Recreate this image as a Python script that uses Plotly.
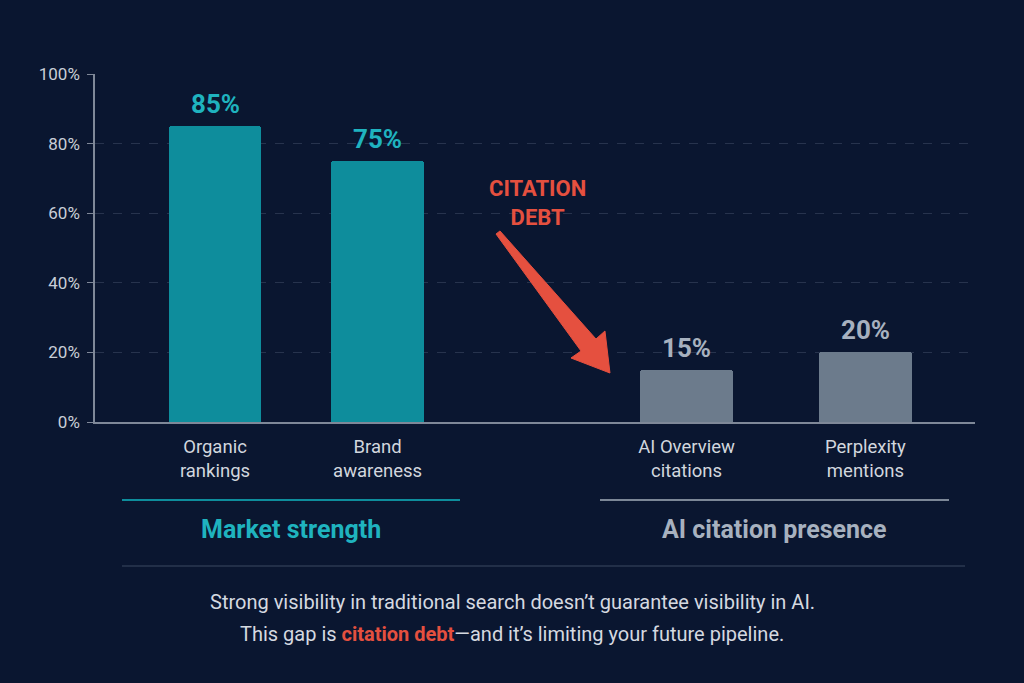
import plotly.graph_objects as go

# chart data
categories = ["Organic<br>rankings", "Brand<br>awareness", "AI Overview<br>citations", "Perplexity<br>mentions"]
values = [85, 75, 15, 20]
groups = ["Market strength", "Market strength", "AI citation presence", "AI citation presence"]
group_names = ["Market strength", "AI citation presence"]
y_ticks = [0, 20, 40, 60, 80, 100]
note_line1 = "Strong visibility in traditional search doesn\u2019t guarantee visibility in AI."
note_line2_a = "This gap is "
note_line2_hl = "citation debt"
note_line2_b = "\u2014and it\u2019s limiting your future pipeline."
callout = "CITATION<br>DEBT"

# layout / style
slots = [0, 1, 2.9, 4]
BG = "#0a1630"
TEAL = "#0e8d9c"
TEAL_TXT = "#1fb3bf"
GRAY = "#6c7b8c"
GRAY_TXT = "#a7b1bf"
RED = "#e5503f"
AXIS = "#7f8898"
FONT = "Roboto"

L, R, T, B = 95, 975, 74, 422  # plot area in pixels


def px(x):
    return (x - L) / (R - L)


def py(y):
    return (B - y) / (B - T)


bar_colors = [TEAL if g == group_names[0] else GRAY for g in groups]
label_colors = [TEAL_TXT if g == group_names[0] else GRAY_TXT for g in groups]

fig = go.Figure()
fig.add_trace(
    go.Bar(
        x=slots,
        y=values,
        width=0.57,
        marker=dict(color=bar_colors, line=dict(width=0), cornerradius=3),
        hoverinfo="skip",
    )
)

for xv, v, c in zip(slots, values, label_colors):
    fig.add_annotation(
        x=xv, y=v, text=f"<b>{v}%</b>", showarrow=False,
        yanchor="bottom", yshift=5,
        font=dict(family=FONT, size=26, color=c),
    )

fig.update_layout(
    width=1024,
    height=683,
    paper_bgcolor=BG,
    plot_bgcolor=BG,
    margin=dict(l=L, r=1024 - R, t=T, b=683 - B, autoexpand=False),
    showlegend=False,
    bargap=0,
    font=dict(family=FONT, color="#cfd4dc"),
)
fig.update_xaxes(
    range=[-0.738, 4.674],
    tickvals=slots,
    ticktext=categories,
    tickfont=dict(size=18.5, color="#d2d7de"),
    showgrid=False,
    zeroline=False,
    showline=True,
    linecolor=AXIS,
    linewidth=1.5,
    ticks="",
    ticklabelstandoff=7,
)
fig.update_yaxes(
    range=[0, 100],
    tickvals=y_ticks,
    ticktext=[f"{t}%" for t in y_ticks],
    tickfont=dict(size=17, color="#c9ced7"),
    showgrid=True,
    gridcolor="#27334d",
    griddash="dash",
    gridwidth=1,
    zeroline=False,
    showline=True,
    linecolor=AXIS,
    linewidth=1.5,
    ticks="outside",
    ticklen=6,
    tickcolor=AXIS,
    ticklabelstandoff=4,
)

# group underlines and titles
spans = [(122, 460, TEAL, TEAL_TXT), (600, 949, "#7c8797", GRAY_TXT)]
for name, (x0, x1, lc, tc) in zip(group_names, spans):
    fig.add_shape(type="line", xref="paper", yref="paper",
                  x0=px(x0), x1=px(x1), y0=py(500), y1=py(500),
                  line=dict(color=lc, width=2))
    fig.add_annotation(xref="paper", yref="paper", x=px((x0 + x1) / 2), y=py(529),
                       xanchor="center", yanchor="middle",
                       text=f"<b>{name}</b>", showarrow=False,
                       font=dict(family=FONT, size=25, color=tc))

fig.add_shape(type="line", xref="paper", yref="paper",
              x0=px(122), x1=px(965), y0=py(566), y1=py(566),
              line=dict(color="#2b3850", width=1.5))

fig.add_annotation(xref="paper", yref="paper", x=px(512), y=py(602),
                   xanchor="center", yanchor="middle",
                   text=note_line1, showarrow=False,
                   font=dict(family=FONT, size=20, color="#d5d9e0"))
fig.add_annotation(xref="paper", yref="paper", x=px(512), y=py(634),
                   xanchor="center", yanchor="middle",
                   text=f"{note_line2_a}<span style='color:{RED}'><b>{note_line2_hl}</b></span>{note_line2_b}",
                   showarrow=False,
                   font=dict(family=FONT, size=20, color="#d5d9e0"))

# citation debt callout with tapered arrow
fig.add_annotation(xref="paper", yref="paper", x=px(537), y=py(203),
                   xanchor="center", yanchor="middle",
                   text=f"<b>{callout}</b>", showarrow=False,
                   font=dict(family=FONT, size=22, color=RED))

arrow_pts = [(496, 234), (581, 351), (571, 358), (610, 373), (605, 331), (596, 339), (500, 231)]
path = "M " + " L ".join(f"{px(x):.4f},{py(y):.4f}" for x, y in arrow_pts) + " Z"
fig.add_shape(type="path", xref="paper", yref="paper", path=path,
              fillcolor=RED, line=dict(color=RED, width=1))

fig.write_html(
    "out.html",
    config={"displayModeBar": False},
    post_script=f"document.body.style.margin='0';document.body.style.background='{BG}';",
)
